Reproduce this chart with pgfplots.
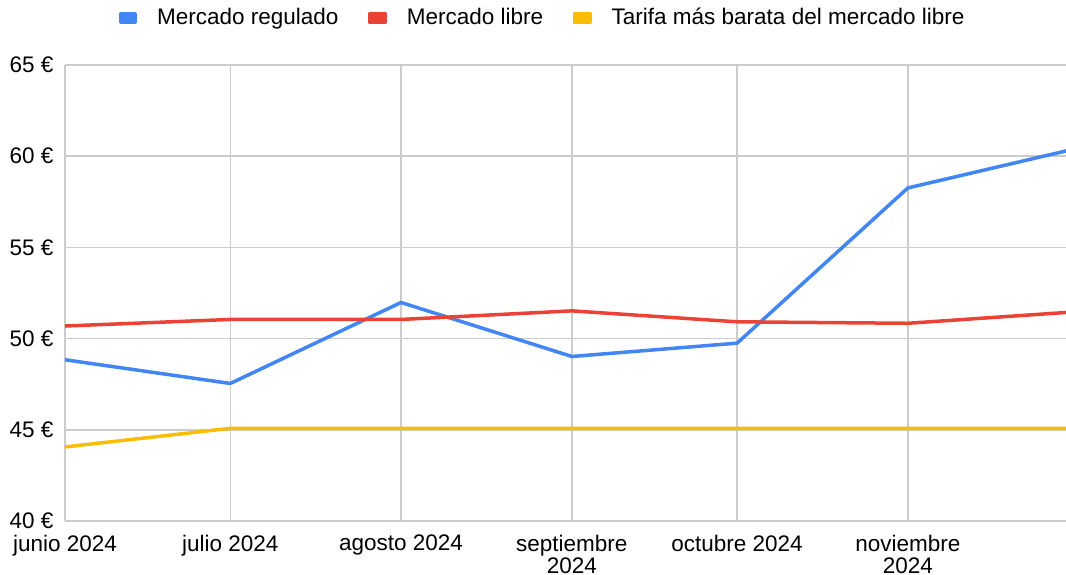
\documentclass[border=0pt]{standalone}
\usepackage{fontspec}
\setmainfont{Liberation Sans}
\usepackage{pgfplots}
\pgfplotsset{compat=1.18}
\definecolor{gblue}{HTML}{4285F4}
\definecolor{gred}{HTML}{EA4335}
\definecolor{gyellow}{HTML}{FBBC04}
\definecolor{ggrid}{HTML}{CCCCCC}
\begin{document}
\fontsize{22.5bp}{23bp}\selectfont
\begin{tikzpicture}
\useasboundingbox (-65bp,-54bp) rectangle (1001bp,521bp);
\begin{axis}[
  at={(0,0)}, anchor=south west,
  scale only axis, width=1001bp, height=456bp,
  xmin=0, xmax=181.7, ymin=40, ymax=65,
  axis lines=left, axis line style={ggrid, line width=1.5bp, -},
  grid=major, major grid style={ggrid, line width=1.5bp},
  major tick length=0pt,
  xtick={0,30,61,92,122,153},
  xticklabels={junio 2024, julio 2024, agosto 2024, septiembre\\2024, octubre 2024, noviembre\\2024},
  xticklabel style={align=center, font=\fontsize{22.5bp}{22bp}\selectfont, yshift=-6bp},
  ytick={40,45,50,55,60,65},
  yticklabels={40 €,45 €,50 €,55 €,60 €,65 €},
  yticklabel style={font=\fontsize{22.5bp}{24bp}\selectfont, xshift=-4bp},
  legend columns=3,
  legend style={at={(0.477,1.103)}, anchor=center, draw=none, fill=none,
    font=\fontsize{22.5bp}{24bp}\selectfont,
    /tikz/every odd column/.append style={column sep=18bp},
    /tikz/every even column/.append style={column sep=28bp}},
  legend image code/.code={\fill[#1] (0bp,-4.5bp) rectangle (15bp,4.5bp);},
  every axis plot/.append style={line width=3.5bp, line join=round},
]
\addplot[gblue] coordinates {(0,48.84) (30,47.54) (61,51.98) (92,49.02) (122,49.75) (153,58.26) (183,60.38)};
\addlegendentry{Mercado regulado}
\addplot[gred] coordinates {(0,50.69) (30,51.05) (61,51.05) (92,51.52) (122,50.92) (153,50.84) (183,51.46)};
\addlegendentry{Mercado libre}
\addplot[gyellow] coordinates {(0,44.06) (30,45.08) (61,45.08) (92,45.08) (122,45.08) (153,45.08) (183,45.08)};
\addlegendentry{Tarifa más barata del mercado libre}
\end{axis}
\end{tikzpicture}
\end{document}
